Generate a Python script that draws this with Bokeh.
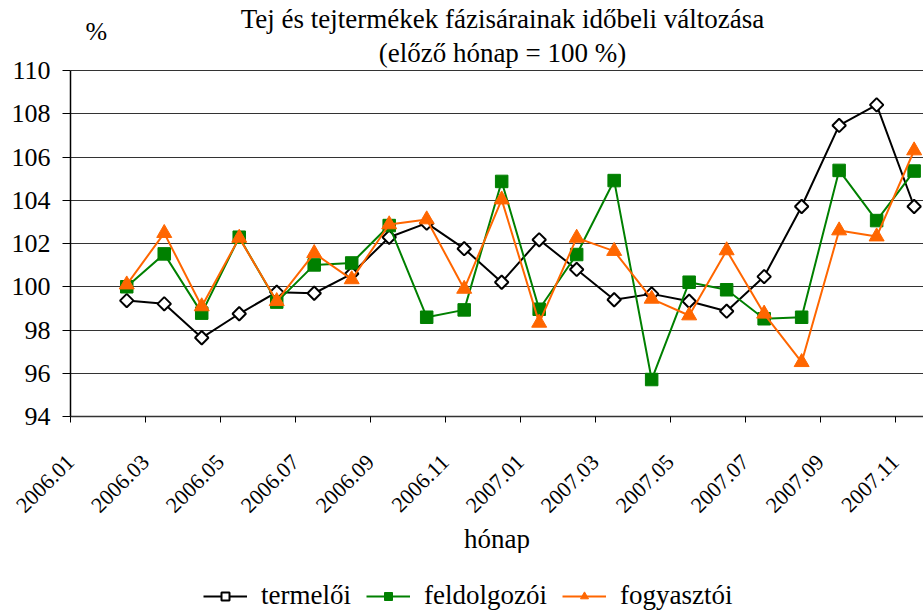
import math
from bokeh.plotting import figure
from bokeh.layouts import column
from bokeh.models import (FixedTicker, CustomJSTickFormatter, Label, Legend, LegendItem, Range1d, Title)
from bokeh.embed import file_html
from bokeh.resources import INLINE

months = ["2006.01", "2006.02", "2006.03", "2006.04", "2006.05", "2006.06", "2006.07", "2006.08",
          "2006.09", "2006.10", "2006.11", "2006.12", "2007.01", "2007.02", "2007.03", "2007.04",
          "2007.05", "2007.06", "2007.07", "2007.08", "2007.09", "2007.10", "2007.11"]
data_months = months[1:]

termeloi = [99.36, 99.21, 97.64, 98.75, 99.75, 99.70, 100.6, 102.29, 102.94, 101.76,
            100.21, 102.17, 100.80, 99.40, 99.67, 99.33, 98.87, 100.47, 103.71, 107.46, 108.41, 103.71]
feldolgozoi = [100.0, 101.52, 98.78, 102.29, 99.29, 101.01, 101.1, 102.83, 98.59, 98.93,
               104.87, 98.96, 101.49, 104.91, 95.71, 100.21, 99.86, 98.52, 98.59, 105.38, 103.06, 105.35]
fogyasztoi = [100.1, 102.48, 99.09, 102.26, 99.33, 101.55, 100.34, 102.88, 103.11, 99.9,
              104.03, 98.33, 102.26, 101.65, 99.44, 98.67, 101.68, 98.75, 96.51, 102.6, 102.32, 106.3]

y_ticks = [94, 96, 98, 100, 102, 104, 106, 108, 110]

title1 = "Tej és tejtermékek fázisárainak időbeli változása"
title2 = "(előző hónap = 100 %)"
x_title = "hónap"
y_unit = "%"
names = ["termelői", "feldolgozói", "fogyasztói"]
colors = ["black", "#008000", "#FF6600"]

FONT = "Liberation Serif"

xs = [months.index(m) for m in data_months]

# plot area: value axis 94..110 occupies 346 px; frame extends 70 px above it for the titles
px_per_unit = 346 / (y_ticks[-1] - y_ticks[0])
y_top = y_ticks[-1] + 70 / px_per_unit

p = figure(frame_width=853, frame_height=416, output_backend="svg", toolbar_location=None,
           x_range=Range1d(-0.5, 22.25), y_range=Range1d(y_ticks[0], y_top),
           min_border_left=70, min_border_right=0, min_border_top=0, min_border_bottom=0)
p.outline_line_color = None
p.background_fill_color = "white"
p.border_fill_color = "white"

# axes
p.xaxis.ticker = FixedTicker(ticks=[i - 0.5 for i in range(0, len(months), 2)])
p.xaxis.formatter = CustomJSTickFormatter(args=dict(labels=months),
                                          code="const i = Math.round(tick + 0.5); return (i >= 0 && i < labels.length) ? labels[i] : '';")
p.xaxis.major_label_orientation = math.pi / 4
p.xaxis.major_label_text_font = FONT
p.xaxis.major_label_text_font_size = "22px"
p.xaxis.major_label_text_color = "black"
p.xaxis.major_label_standoff = 36
p.xaxis.major_tick_in = 0
p.xaxis.major_tick_out = 6
p.xaxis.minor_tick_line_color = None
p.xaxis.axis_line_color = "#333333"
p.xaxis.axis_line_width = 1.5
p.xaxis.major_tick_line_color = "black"

p.yaxis.ticker = FixedTicker(ticks=y_ticks)
p.yaxis.bounds = (y_ticks[0], y_ticks[-1])
p.yaxis.major_label_text_font = FONT
p.yaxis.major_label_text_font_size = "26px"
p.yaxis.major_label_text_color = "black"
p.yaxis.major_label_standoff = 12
p.yaxis.major_tick_in = 0
p.yaxis.major_tick_out = 8
p.yaxis.minor_tick_line_color = None
p.yaxis.axis_line_color = "black"
p.yaxis.axis_line_width = 1.5

p.xgrid.grid_line_color = None
p.ygrid.ticker = FixedTicker(ticks=y_ticks)
p.ygrid.grid_line_color = "#333333"
p.ygrid.grid_line_width = 1

series = [termeloi, feldolgozoi, fogyasztoi]


def draw_series(fig, ys, k):
    ln = fig.line(xs, ys, line_color=colors[k], line_width=2)
    if k == 0:
        mk = fig.scatter(xs, ys, marker="square", angle=math.pi / 4, size=9.5,
                         fill_color="white", line_color=colors[k], line_width=2)
    elif k == 1:
        mk = fig.scatter(xs, ys, marker="square", size=12.5,
                         fill_color=colors[k], line_color=colors[k], line_width=1)
    else:
        mk = fig.scatter(xs, ys, marker="triangle", size=15,
                         fill_color=colors[k], line_color=colors[k], line_width=1)
    return ln, mk


for k, ys in enumerate(series):
    draw_series(p, ys, k)

# texts in the top strip of the frame (screen units from the frame's bottom-left)
p.add_layout(Label(x=432, y=398, x_units="screen", y_units="screen", text=title1,
                   text_font=FONT, text_font_size="27px", text_align="center",
                   text_baseline="alphabetic", text_color="black"))
p.add_layout(Label(x=432, y=364, x_units="screen", y_units="screen", text=title2,
                   text_font=FONT, text_font_size="27px", text_align="center",
                   text_baseline="alphabetic", text_color="black"))
p.add_layout(Label(x=15, y=385, x_units="screen", y_units="screen", text=y_unit,
                   text_font=FONT, text_font_size="26px", text_align="left",
                   text_baseline="alphabetic", text_color="black"))

# x axis title
p.add_layout(Title(text=x_title, align="center", text_font=FONT, text_font_size="27px",
                   text_font_style="normal", text_color="black", standoff=0, offset=5), "below")

# legend strip: a second figure whose view range excludes the data, so only the legend keys show
q = figure(width=923, height=60, output_backend="svg", toolbar_location=None,
           x_range=Range1d(-10, -9), y_range=Range1d(0, 1),
           x_axis_location=None, y_axis_location=None,
           min_border_left=0, min_border_right=0, min_border_top=0, min_border_bottom=0)
q.outline_line_color = None
q.xgrid.grid_line_color = None
q.ygrid.grid_line_color = None
q.background_fill_color = "white"
q.border_fill_color = "white"

items = []
for k, ys in enumerate(series):
    ln, mk = draw_series(q, ys, k)
    items.append(LegendItem(label=names[k], renderers=[ln, mk]))

legend = Legend(items=items, orientation="horizontal", location=(133, 2),
                label_text_font=FONT, label_text_font_size="27px", label_text_color="black",
                glyph_width=44, glyph_height=20, label_standoff=14, spacing=15,
                padding=0, margin=0, border_line_color=None, background_fill_alpha=0)
q.add_layout(legend, "center")

layout = column(p, q, spacing=0)
open("out.html", "w").write(file_html(layout, INLINE))
